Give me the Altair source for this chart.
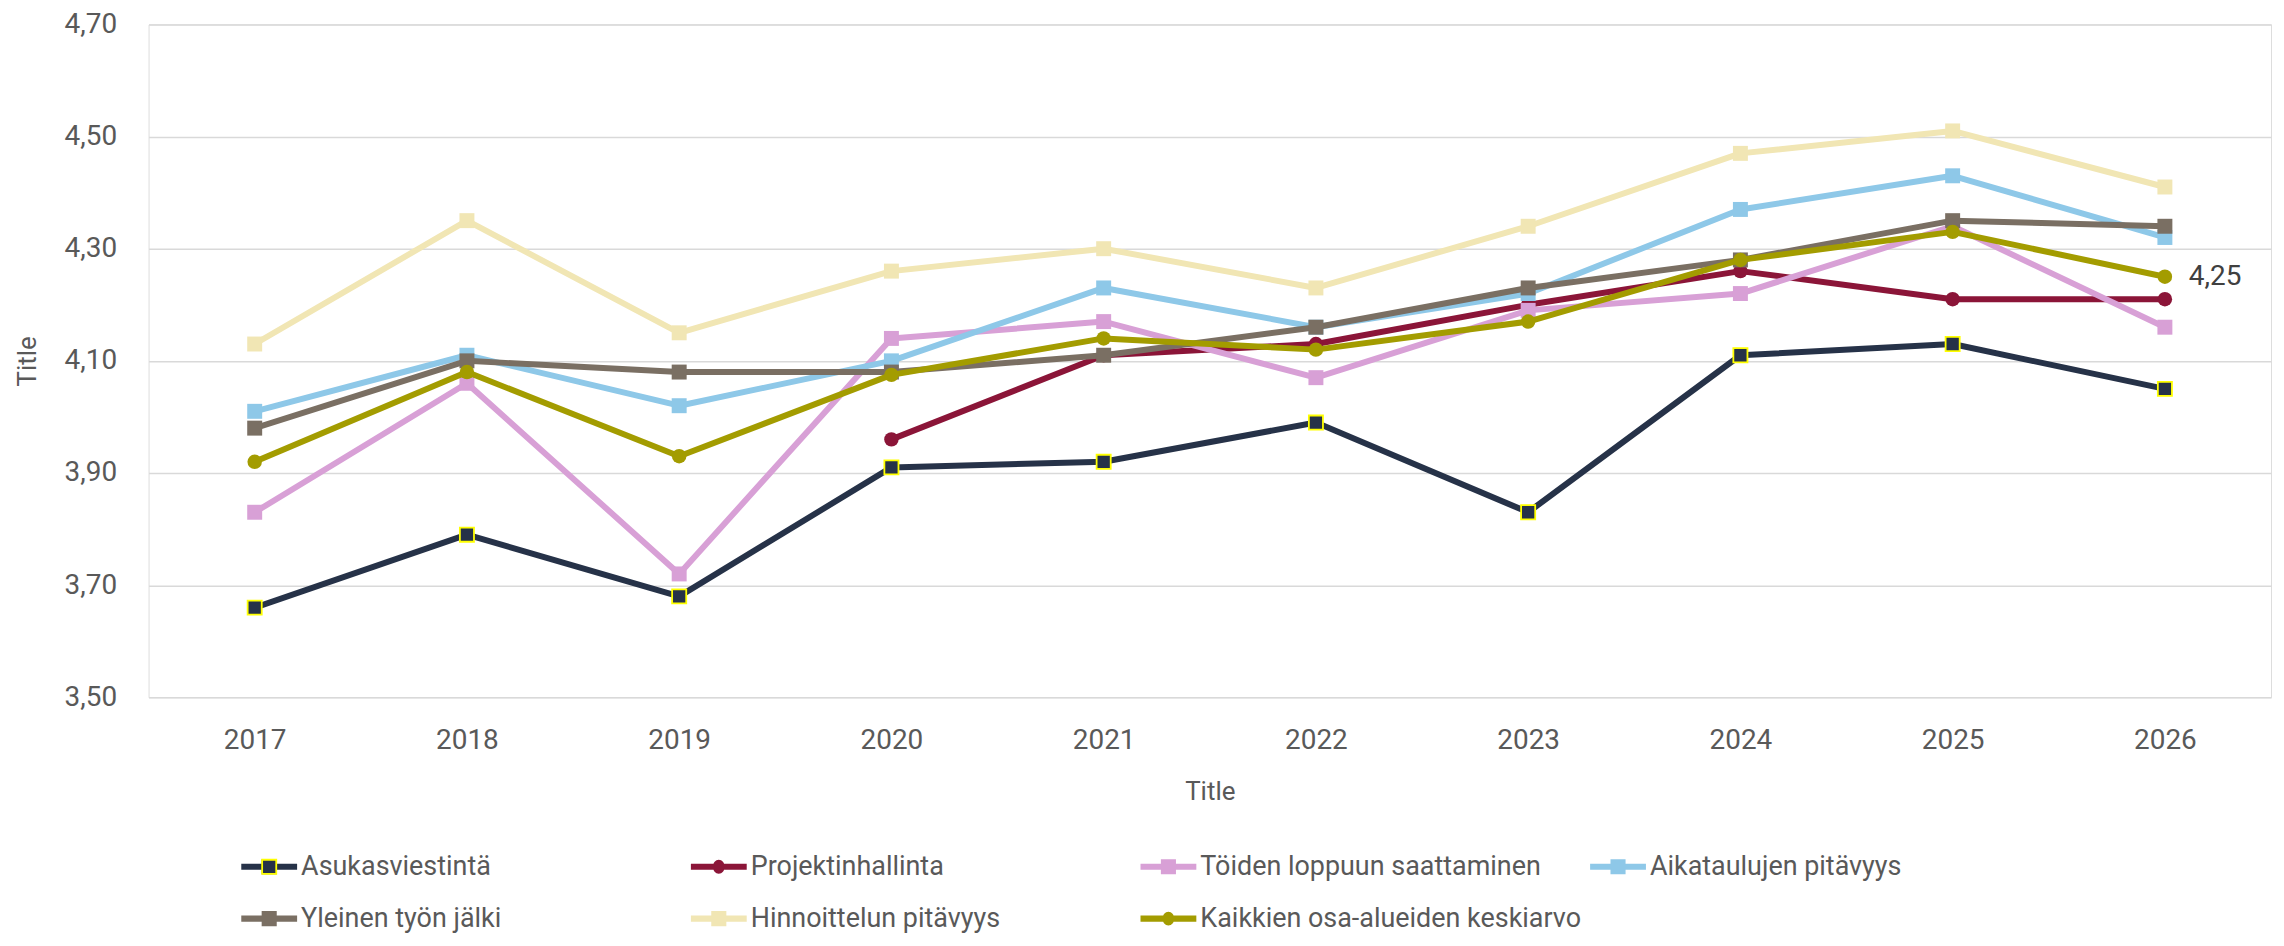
import altair as alt
import pandas as pd

# ---- data ----
years = [2017, 2018, 2019, 2020, 2021, 2022, 2023, 2024, 2025, 2026]
series = [
    "Asukasviestintä",
    "Projektinhallinta",
    "Töiden loppuun saattaminen",
    "Aikataulujen pitävyys",
    "Yleinen työn jälki",
    "Hinnoittelun pitävyys",
    "Kaikkien osa-alueiden keskiarvo",
]
asukasviestinta = [3.66, 3.79, 3.68, 3.91, 3.92, 3.99, 3.83, 4.11, 4.13, 4.05]
projektinhallinta = [None, None, None, 3.96, 4.11, 4.13, 4.20, 4.26, 4.21, 4.21]
toiden_loppuun = [3.83, 4.06, 3.72, 4.14, 4.17, 4.07, 4.19, 4.22, 4.34, 4.16]
aikataulujen = [4.01, 4.11, 4.02, 4.10, 4.23, 4.16, 4.22, 4.37, 4.43, 4.32]
yleinen = [3.98, 4.10, 4.08, 4.08, 4.11, 4.16, 4.23, 4.28, 4.35, 4.34]
hinnoittelun = [4.13, 4.35, 4.15, 4.26, 4.30, 4.23, 4.34, 4.47, 4.51, 4.41]
kaikkien = [3.92, 4.08, 3.93, 4.075, 4.14, 4.12, 4.17, 4.28, 4.33, 4.25]
all_values = [asukasviestinta, projektinhallinta, toiden_loppuun, aikataulujen,
              yleinen, hinnoittelun, kaikkien]
colors = ["#263248", "#8B1538", "#D8A0D6", "#8EC8E8", "#7A6F63", "#F1E6B4", "#A39C00"]
markers = ["square", "circle", "square", "square", "square", "square", "circle"]
y_ticks = [3.5, 3.7, 3.9, 4.1, 4.3, 4.5, 4.7]
labelled_series = "Kaikkien osa-alueiden keskiarvo"
labelled_year = "2026"

# ---- tables ----
rows = []
for s, vals in zip(series, all_values):
    for yr, v in zip(years, vals):
        if v is not None:
            rows.append({"series": s, "year": str(yr), "value": v})
df = pd.DataFrame(rows)

leg_paths = {
    "square": ("M-1,-0.11 L-0.27,-0.11 L-0.27,-0.27 L0.27,-0.27 L0.27,-0.11 L1,-0.11 "
               "L1,0.11 L0.27,0.11 L0.27,0.27 L-0.27,0.27 L-0.27,0.11 L-1,0.11 Z"),
    "circle": ("M-1,-0.11 L1,-0.11 L1,0.11 L-1,0.11 Z "
               "M0.21,0 A0.21,0.25 0 1,1 -0.21,0 A0.21,0.25 0 1,1 0.21,0 Z"),
}
leg_df = pd.DataFrame({
    "series": series,
    "col": [i % 4 for i in range(len(series))],
    "row": [i // 4 for i in range(len(series))],
})

FONT = "Roboto"
TXT = "#595959"

color_scale = alt.Scale(domain=series, range=colors)
x_enc = alt.X(
    "year:O",
    scale=alt.Scale(domain=[str(y) for y in years], padding=0.5),
    title="Title",
    axis=alt.Axis(
        labelAngle=0, grid=False, domain=False, ticks=False,
        labelFont=FONT, labelFontSize=28, labelColor=TXT,
        labelBaseline="middle", labelPadding=43,
        titleFont=FONT, titleFontSize=26, titleColor=TXT, titleFontWeight="normal",
        titleBaseline="middle", titleY=95,
    ),
)
y_enc = alt.Y(
    "value:Q",
    scale=alt.Scale(domain=[3.5, 4.7], nice=False, zero=False),
    title="Title",
    axis=alt.Axis(
        values=y_ticks, grid=True, gridColor="#D9D9D9", gridWidth=1.5,
        domain=False, ticks=False,
        labelExpr="replace(format(datum.value, '.2f'), '.', ',')",
        labelFont=FONT, labelFontSize=28, labelColor=TXT, labelPadding=32,
        titleFont=FONT, titleFontSize=26, titleColor=TXT, titleFontWeight="normal",
        titleBaseline="middle", titleX=-121,
    ),
)
c_enc = alt.Color("series:N", scale=color_scale, legend=None)

base = alt.Chart(df)
layers = []
for i, s in enumerate(series):
    sub = base.transform_filter(alt.datum.series == s)
    layers.append(
        sub.mark_line(strokeWidth=6, strokeJoin="round", strokeCap="round")
        .encode(x=x_enc, y=y_enc, color=c_enc)
    )
    if markers[i] == "square":
        if i == 0:
            pt = sub.mark_square(size=200, opacity=1, filled=True,
                                 stroke="#FFFF00", strokeWidth=1.8)
        else:
            pt = sub.mark_square(size=225, opacity=1, filled=True)
    else:
        pt = sub.mark_circle(size=210, opacity=1)
    layers.append(pt.encode(x=x_enc, y=y_enc, color=c_enc))

value_label = (
    base.transform_filter((alt.datum.series == labelled_series) & (alt.datum.year == labelled_year))
    .transform_calculate(lbl="replace(format(datum.value, '.2f'), '.', ',')")
    .mark_text(align="left", baseline="middle", dx=24, font=FONT, fontSize=28, color="#404040")
    .encode(x=x_enc, y=y_enc, text="lbl:N")
)
layers.append(value_label)
main = alt.layer(*layers)

# ---- legend (drawn as marks placed by their own scales) ----
lx = alt.X("col:Q", scale=alt.Scale(domain=[0, 3], range=[121, 1474], zero=False, nice=False), axis=None)
ly = alt.Y("row:Q", scale=alt.Scale(domain=[0, 1], range=[845, 897], zero=False, nice=False), axis=None)
leg_base = alt.Chart(leg_df)
leg_sym = leg_base.mark_point(filled=True, opacity=1, size=3136).encode(
    x=lx, y=ly, color=c_enc,
    shape=alt.Shape("series:N", scale=alt.Scale(domain=series,
                                                range=[leg_paths[m] for m in markers]), legend=None),
)
leg_box = leg_base.transform_filter(alt.datum.series == series[0]).mark_square(
    size=200, opacity=1, filled=True, stroke="#FFFF00", strokeWidth=1.8
).encode(x=lx, y=ly, color=c_enc)
leg_txt = leg_base.mark_text(align="left", baseline="middle", dx=32, font=FONT,
                             fontSize=27, color=TXT).encode(x=lx, y=ly, text="series:N")
legend = alt.layer(leg_sym, leg_box, leg_txt)

chart = (
    alt.layer(main, legend)
    .resolve_scale(x="independent", y="independent")
    .properties(
        width=2129, height=675,
        padding={"left": 141, "top": 15, "right": 5, "bottom": 240},
        autosize=alt.AutoSizeParams(type="none"),
    )
    .configure_view(stroke=None)
    .configure(background="white")
)

chart.save("out.html", embed_options={"renderer": "svg", "actions": False})
